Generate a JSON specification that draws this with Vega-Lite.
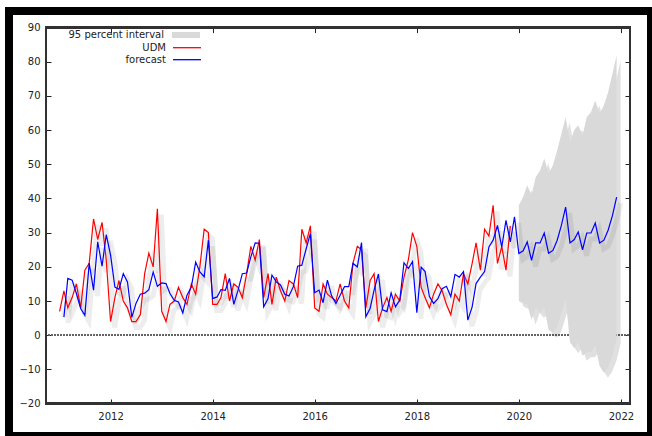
{
  "$schema": "https://vega.github.io/schema/vega-lite/v6.json",
  "width": 642,
  "height": 425,
  "autosize": {"type": "none"},
  "padding": {"left": 9, "top": 11, "right": 1, "bottom": 0},
  "background": "white",
  "config": {
    "font": "DejaVu Sans",
    "view": {"fill": "white", "stroke": "black", "strokeWidth": 8},
    "axis": {"labelFont": "DejaVu Sans", "labelFontSize": 10, "labelColor": "#222", "tickColor": "#222", "tickWidth": 1, "grid": false, "domain": false, "title": null},
    "legend": {"orient": "none", "legendX": 172, "symbolSize": 100, "symbolStrokeWidth": 1.3, "labelAlign": "right", "labelOffset": -27, "labelFont": "DejaVu Sans", "labelFontSize": 10, "labelColor": "#222", "rowPadding": 1.0, "padding": 0}
  },
  "data": {"values": [
    {"d": "2011-01-01", "udm": 7, "fc": null},
    {"d": "2011-02-01", "udm": 13, "fc": 5.3},
    {"d": "2011-03-01", "udm": 8, "fc": 16.6},
    {"d": "2011-04-01", "udm": 11, "fc": 16.1},
    {"d": "2011-05-01", "udm": 15, "fc": 12.2},
    {"d": "2011-06-01", "udm": 8, "fc": 7.8},
    {"d": "2011-07-01", "udm": 19, "fc": 5.8},
    {"d": "2011-08-01", "udm": 21, "fc": 21.1},
    {"d": "2011-09-01", "udm": 34, "fc": 13.2},
    {"d": "2011-10-01", "udm": 28, "fc": 27.3},
    {"d": "2011-11-01", "udm": 33, "fc": 20.2},
    {"d": "2011-12-01", "udm": 22, "fc": 29.4},
    {"d": "2012-01-01", "udm": 4, "fc": 23.4},
    {"d": "2012-02-01", "udm": 11, "fc": 14.1},
    {"d": "2012-03-01", "udm": 16, "fc": 13.4},
    {"d": "2012-04-01", "udm": 10, "fc": 18},
    {"d": "2012-05-01", "udm": 8, "fc": 15.6},
    {"d": "2012-06-01", "udm": 4, "fc": 5.2},
    {"d": "2012-07-01", "udm": 4, "fc": 9.3},
    {"d": "2012-08-01", "udm": 6, "fc": 12},
    {"d": "2012-09-01", "udm": 18, "fc": 12.3},
    {"d": "2012-10-01", "udm": 24, "fc": 13.3},
    {"d": "2012-11-01", "udm": 20, "fc": 18.5},
    {"d": "2012-12-01", "udm": 37, "fc": 14.3},
    {"d": "2013-01-01", "udm": 7, "fc": 15.3},
    {"d": "2013-02-01", "udm": 4, "fc": 15.1},
    {"d": "2013-03-01", "udm": 9, "fc": 12.2},
    {"d": "2013-04-01", "udm": 10, "fc": 10.2},
    {"d": "2013-05-01", "udm": 14, "fc": 9.7},
    {"d": "2013-06-01", "udm": 11, "fc": 6.5},
    {"d": "2013-07-01", "udm": 9, "fc": 11.7},
    {"d": "2013-08-01", "udm": 15, "fc": 14.1},
    {"d": "2013-09-01", "udm": 12, "fc": 21.4},
    {"d": "2013-10-01", "udm": 20, "fc": 18.5},
    {"d": "2013-11-01", "udm": 31, "fc": 17.1},
    {"d": "2013-12-01", "udm": 30, "fc": 27.8},
    {"d": "2014-01-01", "udm": 9, "fc": 10.7},
    {"d": "2014-02-01", "udm": 9, "fc": 11.2},
    {"d": "2014-03-01", "udm": 11, "fc": 13.3},
    {"d": "2014-04-01", "udm": 18, "fc": 13.1},
    {"d": "2014-05-01", "udm": 10, "fc": 16.6},
    {"d": "2014-06-01", "udm": 15, "fc": 9},
    {"d": "2014-07-01", "udm": 14, "fc": 13.1},
    {"d": "2014-08-01", "udm": 11, "fc": 18},
    {"d": "2014-09-01", "udm": 18, "fc": 18.2},
    {"d": "2014-10-01", "udm": 26, "fc": 22.9},
    {"d": "2014-11-01", "udm": 22, "fc": 27},
    {"d": "2014-12-01", "udm": 28, "fc": 26.9},
    {"d": "2015-01-01", "udm": 11, "fc": 8.3},
    {"d": "2015-02-01", "udm": 18, "fc": 10.7},
    {"d": "2015-03-01", "udm": 9, "fc": 17.6},
    {"d": "2015-04-01", "udm": 17, "fc": 15.6},
    {"d": "2015-05-01", "udm": 13, "fc": 14.7},
    {"d": "2015-06-01", "udm": 10, "fc": 12},
    {"d": "2015-07-01", "udm": 16, "fc": 11.5},
    {"d": "2015-08-01", "udm": 15, "fc": 14.2},
    {"d": "2015-09-01", "udm": 11, "fc": 20.2},
    {"d": "2015-10-01", "udm": 31, "fc": 20.5},
    {"d": "2015-11-01", "udm": 27, "fc": 25.3},
    {"d": "2015-12-01", "udm": 32, "fc": 29.7},
    {"d": "2016-01-01", "udm": 8, "fc": 12.4},
    {"d": "2016-02-01", "udm": 7, "fc": 13.2},
    {"d": "2016-03-01", "udm": 15, "fc": 9.5},
    {"d": "2016-04-01", "udm": 12, "fc": 16.1},
    {"d": "2016-05-01", "udm": 11, "fc": 11.5},
    {"d": "2016-06-01", "udm": 10, "fc": 9.3},
    {"d": "2016-07-01", "udm": 15, "fc": 11.7},
    {"d": "2016-08-01", "udm": 10, "fc": 14.2},
    {"d": "2016-09-01", "udm": 8, "fc": 14.2},
    {"d": "2016-10-01", "udm": 21, "fc": 21},
    {"d": "2016-11-01", "udm": 26, "fc": 20},
    {"d": "2016-12-01", "udm": 25, "fc": 27.1},
    {"d": "2017-01-01", "udm": 8, "fc": 5.4},
    {"d": "2017-02-01", "udm": 16, "fc": 7.9},
    {"d": "2017-03-01", "udm": 18, "fc": 13.2},
    {"d": "2017-04-01", "udm": 4, "fc": 17.9},
    {"d": "2017-05-01", "udm": 8, "fc": 7.4},
    {"d": "2017-06-01", "udm": 11, "fc": 6.9},
    {"d": "2017-07-01", "udm": 7, "fc": 12.4},
    {"d": "2017-08-01", "udm": 12, "fc": 8.3},
    {"d": "2017-09-01", "udm": 10, "fc": 10.3},
    {"d": "2017-10-01", "udm": 17, "fc": 21.2},
    {"d": "2017-11-01", "udm": 22, "fc": 19.5},
    {"d": "2017-12-01", "udm": 30, "fc": 21.5},
    {"d": "2018-01-01", "udm": 26, "fc": 6.6},
    {"d": "2018-02-01", "udm": 14, "fc": 19.9},
    {"d": "2018-03-01", "udm": 11, "fc": 18.6},
    {"d": "2018-04-01", "udm": 8, "fc": 11.3},
    {"d": "2018-05-01", "udm": 12, "fc": 9.3},
    {"d": "2018-06-01", "udm": 15, "fc": 10.7},
    {"d": "2018-07-01", "udm": 13, "fc": 13.6},
    {"d": "2018-08-01", "udm": 9, "fc": 14.3},
    {"d": "2018-09-01", "udm": 6, "fc": 11.3},
    {"d": "2018-10-01", "udm": 12, "fc": 17.8},
    {"d": "2018-11-01", "udm": 10, "fc": 17},
    {"d": "2018-12-01", "udm": 18, "fc": 18.6},
    {"d": "2019-01-01", "udm": 15, "fc": 4.4},
    {"d": "2019-02-01", "udm": 21, "fc": 8.3},
    {"d": "2019-03-01", "udm": 27, "fc": 15.1},
    {"d": "2019-04-01", "udm": 19, "fc": 17},
    {"d": "2019-05-01", "udm": 31, "fc": 18.6},
    {"d": "2019-06-01", "udm": 29, "fc": 25.8},
    {"d": "2019-07-01", "udm": 38, "fc": 27.8},
    {"d": "2019-08-01", "udm": 21, "fc": 32.1},
    {"d": "2019-09-01", "udm": 26, "fc": 25.8},
    {"d": "2019-10-01", "udm": 19, "fc": 33.6},
    {"d": "2019-11-01", "udm": 32, "fc": 27.3},
    {"d": "2019-12-01", "udm": null, "fc": 34.6},
    {"d": "2020-01-01", "fc": 23.9, "lo": 10, "hi": 38},
    {"d": "2020-02-01", "fc": 24.7, "lo": 9.3, "hi": 40.4},
    {"d": "2020-03-01", "fc": 27.3, "lo": 9, "hi": 43.9},
    {"d": "2020-04-01", "fc": 21.9, "lo": 4.5, "hi": 41},
    {"d": "2020-05-01", "fc": 27, "lo": 8, "hi": 46.3},
    {"d": "2020-06-01", "fc": 27, "lo": 6.5, "hi": 48.2},
    {"d": "2020-07-01", "fc": 29.9, "lo": 8.2, "hi": 51.7},
    {"d": "2020-08-01", "fc": 24, "lo": 1.5, "hi": 47.3},
    {"d": "2020-09-01", "fc": 24.8, "lo": 0.7, "hi": 49.7},
    {"d": "2020-10-01", "fc": 27.7, "lo": 2.5, "hi": 54},
    {"d": "2020-11-01", "fc": 32.2, "lo": 6.5, "hi": 59},
    {"d": "2020-12-01", "fc": 37.5, "lo": 10.5, "hi": 63.8},
    {"d": "2021-01-01", "fc": 27, "lo": -2, "hi": 56.5},
    {"d": "2021-02-01", "fc": 28, "lo": -3.8, "hi": 60},
    {"d": "2021-03-01", "fc": 30.2, "lo": -2, "hi": 61.4},
    {"d": "2021-04-01", "fc": 25, "lo": -6, "hi": 58.5},
    {"d": "2021-05-01", "fc": 29.9, "lo": -5, "hi": 63.8},
    {"d": "2021-06-01", "fc": 29.9, "lo": -5, "hi": 65.3},
    {"d": "2021-07-01", "fc": 32.8, "lo": -3, "hi": 68.7},
    {"d": "2021-08-01", "fc": 27, "lo": -9, "hi": 64.8},
    {"d": "2021-09-01", "fc": 27.8, "lo": -11, "hi": 67.3},
    {"d": "2021-10-01", "fc": 30.7, "lo": -9.2, "hi": 71.1},
    {"d": "2021-11-01", "fc": 35, "lo": -6, "hi": 76.5},
    {"d": "2021-12-01", "fc": 40.4, "lo": -1, "hi": 81.9}
  ]},
  "resolve": {"axis": {"x": "independent", "y": "independent"}},
  "layer": [
    {
      "mark": {"type": "rule", "strokeDash": [1, 2], "color": "#666", "strokeWidth": 0.6},
      "encoding": {
        "x": {"datum": {"year": 2010, "month": 9, "date": 25, "utc": true}, "type": "temporal", "axis": null, "scale": {"type": "utc", "domain": [{"year": 2010, "month": 1, "date": 4, "utc": true}, {"year": 2022, "month": 8, "date": 4, "utc": true}]}},
        "x2": {"datum": {"year": 2022, "month": 3, "date": 6, "utc": true}},
        "y": {"datum": 0, "type": "quantitative", "axis": null, "scale": {"domain": [-29.49, 94.85], "nice": false, "zero": false}}
      }
    },
    {
      "mark": {"type": "area", "color": "#000", "opacity": 0.12, "xOffset": 4, "yOffset": 5, "y2Offset": 5},
      "encoding": {
        "x": {"field": "d", "type": "temporal", "axis": null, "scale": {"type": "utc", "domain": [{"year": 2010, "month": 1, "date": 4, "utc": true}, {"year": 2022, "month": 8, "date": 4, "utc": true}]}},
        "y": {"field": "lo", "type": "quantitative", "axis": null, "scale": {"domain": [-29.49, 94.85], "nice": false, "zero": false}},
        "y2": {"field": "hi"}
      }
    },
    {
      "mark": {"type": "area", "opacity": 1},
      "encoding": {
        "x": {"field": "d", "type": "temporal", "scale": {"type": "utc", "domain": [{"year": 2010, "month": 1, "date": 4, "utc": true}, {"year": 2022, "month": 8, "date": 4, "utc": true}]},
          "axis": {"orient": "bottom", "offset": -32, "format": "%Y", "tickSize": -5, "labelPadding": 12, "values": [{"year": 2012, "utc": true}, {"year": 2014, "utc": true}, {"year": 2016, "utc": true}, {"year": 2018, "utc": true}, {"year": 2020, "utc": true}, {"year": 2022, "utc": true}]}},
        "y": {"field": "lo", "type": "quantitative", "scale": {"domain": [-29.49, 94.85], "nice": false, "zero": false},
          "axis": {"orient": "left", "offset": -37, "tickSize": -5, "labelPadding": 11, "values": [-20, -10, 0, 10, 20, 30, 40, 50, 60, 70, 80, 90]}},
        "y2": {"field": "hi"},
        "fill": {"datum": "95 percent interval", "scale": {"domain": ["95 percent interval"], "range": ["#d9d9d9"]}, "legend": {"title": null, "symbolType": "M-2.8,-0.6H2.8V0.6H-2.8Z", "symbolStrokeWidth": 0, "legendX": 172, "legendY": 19}}
      }
    },
    {
      "mark": {"type": "line", "color": "#000", "opacity": 0.07, "strokeWidth": 5, "xOffset": 4, "yOffset": 6},
      "encoding": {
        "x": {"field": "d", "type": "temporal", "axis": null, "scale": {"type": "utc", "domain": [{"year": 2010, "month": 1, "date": 4, "utc": true}, {"year": 2022, "month": 8, "date": 4, "utc": true}]}},
        "y": {"field": "udm", "type": "quantitative", "axis": null, "scale": {"domain": [-29.49, 94.85], "nice": false, "zero": false}}
      }
    },
    {
      "mark": {"type": "line", "color": "#000", "opacity": 0.07, "strokeWidth": 5, "xOffset": 4, "yOffset": 6},
      "encoding": {
        "x": {"field": "d", "type": "temporal", "axis": null, "scale": {"type": "utc", "domain": [{"year": 2010, "month": 1, "date": 4, "utc": true}, {"year": 2022, "month": 8, "date": 4, "utc": true}]}},
        "y": {"field": "fc", "type": "quantitative", "axis": null, "scale": {"domain": [-29.49, 94.85], "nice": false, "zero": false}}
      }
    },
    {
      "mark": {"type": "line", "strokeWidth": 1.2},
      "encoding": {
        "x": {"field": "d", "type": "temporal", "axis": null, "scale": {"type": "utc", "domain": [{"year": 2010, "month": 1, "date": 4, "utc": true}, {"year": 2022, "month": 8, "date": 4, "utc": true}]}},
        "y": {"field": "udm", "type": "quantitative", "axis": null, "scale": {"domain": [-29.49, 94.85], "nice": false, "zero": false}},
        "stroke": {"datum": "UDM", "scale": {"domain": ["UDM", "forecast"], "range": ["#ff0000", "#0000ff"]}, "legend": {"title": null, "symbolType": "M-2.8,0H2.8", "legendX": 172, "legendY": 30.7}}
      }
    },
    {
      "mark": {"type": "line", "strokeWidth": 1.2},
      "encoding": {
        "x": {"field": "d", "type": "temporal", "scale": {"type": "utc", "domain": [{"year": 2010, "month": 1, "date": 4, "utc": true}, {"year": 2022, "month": 8, "date": 4, "utc": true}]},
          "axis": {"orient": "top", "offset": -16.6, "labels": false, "tickSize": -5, "values": [{"year": 2012, "utc": true}, {"year": 2014, "utc": true}, {"year": 2016, "utc": true}, {"year": 2018, "utc": true}, {"year": 2020, "utc": true}, {"year": 2022, "utc": true}]}},
        "y": {"field": "fc", "type": "quantitative", "scale": {"domain": [-29.49, 94.85], "nice": false, "zero": false},
          "axis": {"orient": "right", "offset": -21, "labels": false, "tickSize": -5, "values": [-20, -10, 0, 10, 20, 30, 40, 50, 60, 70, 80, 90]}},
        "stroke": {"datum": "forecast", "legend": {"title": null, "symbolType": "M-2.8,0H2.8", "legendX": 172, "legendY": 30.7}}
      }
    },
    {
      "mark": {"type": "rect", "fill": null, "fillOpacity": 0, "stroke": "#333", "strokeWidth": 1.5},
      "encoding": {
        "x": {"datum": {"year": 2010, "month": 9, "date": 25, "utc": true}, "type": "temporal", "axis": null, "scale": {"type": "utc", "domain": [{"year": 2010, "month": 1, "date": 4, "utc": true}, {"year": 2022, "month": 8, "date": 4, "utc": true}]}},
        "x2": {"datum": {"year": 2022, "month": 3, "date": 6, "utc": true}},
        "y": {"datum": 90, "type": "quantitative", "axis": null, "scale": {"domain": [-29.49, 94.85], "nice": false, "zero": false}},
        "y2": {"datum": -20}
      }
    }
  ]
}
